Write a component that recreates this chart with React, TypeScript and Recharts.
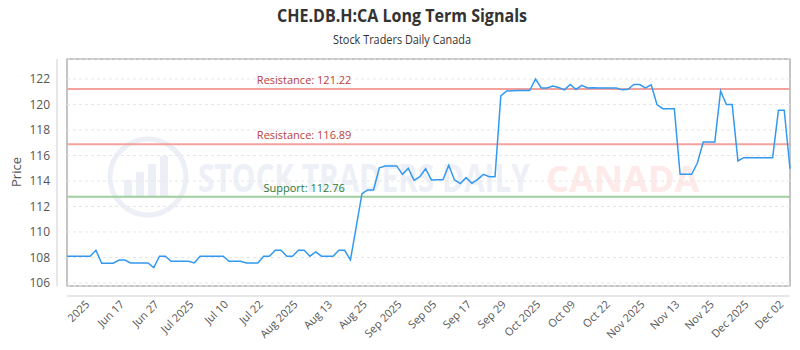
import React from 'react';
import { LineChart, Line, XAxis, YAxis, CartesianGrid, ReferenceLine } from 'recharts';

const W = 800;
const H = 350;
// plot frame, the axis lines sit 10px outside it
const PLOT = { left: 67, top: 59, right: 790, bottom: 286 };

const PRICES = [
  108.1, 108.1, 108.1, 108.1, 108.1, 108.56, 107.55, 107.55, 107.55, 107.8,
  107.8, 107.57, 107.57, 107.57, 107.57, 107.2, 108.1, 108.1, 107.7, 107.7,
  107.7, 107.7, 107.57, 108.1, 108.1, 108.1, 108.1, 108.1, 107.7, 107.7,
  107.7, 107.57, 107.57, 107.57, 108.1, 108.1, 108.56, 108.56, 108.1, 108.1,
  108.56, 108.56, 108.1, 108.43, 108.1, 108.1, 108.1, 108.56, 108.56, 107.8,
  110.4, 113.0, 113.3, 113.3, 115.04, 115.18, 115.18, 115.18, 114.52, 115.0,
  114.05, 114.34, 114.96, 114.08, 114.1, 114.1, 115.23, 114.08, 113.8, 114.26,
  113.82, 114.13, 114.52, 114.34, 114.34, 120.67, 121.06, 121.08, 121.1, 121.1,
  121.1, 122.0, 121.3, 121.3, 121.45, 121.33, 121.15, 121.57, 121.18, 121.5,
  121.3, 121.32, 121.3, 121.3, 121.3, 121.3, 121.15, 121.2, 121.57, 121.57,
  121.3, 121.55, 120.0, 119.67, 119.67, 119.67, 114.52, 114.52, 114.52, 115.43,
  117.06, 117.06, 117.06, 121.06, 120.0, 120.0, 115.57, 115.83, 115.83, 115.83,
  115.83, 115.83, 115.83, 119.55, 119.55, 114.96,
];

const TICK_INDEX = [4, 10, 16, 22, 28, 34, 40, 46, 52, 58, 64, 70, 76, 82, 88, 94, 100, 106, 112, 118, 124];
const TICK_LABELS = [
  '2025', 'Jun 17', 'Jun 27', 'Jul 2025', 'Jul 10', 'Jul 22', 'Aug 2025', 'Aug 13', 'Aug 25',
  'Sep 2025', 'Sep 05', 'Sep 17', 'Sep 29', 'Oct 2025', 'Oct 09', 'Oct 22', 'Nov 2025',
  'Nov 13', 'Nov 25', 'Dec 2025', 'Dec 02',
];
const Y_TICKS = [106, 108, 110, 112, 114, 116, 118, 120, 122];
const Y_DOMAIN = [105.76, 123.57];
const RESISTANCE = [121.22, 116.89];
const SUPPORT = [112.76];

const LINE_COLOR = '#3399f0';
const RES_LINE = '#f3a29d';
const RES_TEXT = '#b8413c';
const SUP_LINE = '#9fcf9c';
const SUP_TEXT = '#2e7d32';
const FONT = '"Open Sans", "DejaVu Sans", sans-serif';

const data = PRICES.map((price, i) => ({ i, price }));

const XTick = (props: any) => {
  const { x, y, payload } = props;
  const k = TICK_INDEX.indexOf(payload.value);
  return (
    <text
      x={x}
      y={y}
      transform={`rotate(-45 ${x} ${y})`}
      textAnchor="end"
      fontSize={11}
      fontFamily={FONT}
      fill="#555"
    >
      {k >= 0 ? TICK_LABELS[k] : ''}
    </text>
  );
};

const RefLabel = (props: any) => {
  const { viewBox, text, color } = props;
  if (!viewBox) return null;
  const x = viewBox.x + viewBox.width * 0.328;
  return (
    <text x={x} y={viewBox.y - 5} textAnchor="middle" fill={color} fontSize={11} fontFamily={FONT}>
      {text}
    </text>
  );
};

// background: titles, watermark, frame and the detached axis lines
const Backdrop = () => (
  <svg width={W} height={H} style={{ position: 'absolute', left: 0, top: 0 }}>
    <text x={402} y={22} textAnchor="middle" fontSize={18} fontWeight={700} fill="#333"
      fontFamily={FONT} textLength={250} lengthAdjust="spacingAndGlyphs">
      CHE.DB.H:CA Long Term Signals
    </text>
    <text x={402} y={44} textAnchor="middle" fontSize={12} fill="#333" fontFamily={FONT}
      textLength={138} lengthAdjust="spacingAndGlyphs">
      Stock Traders Daily Canada
    </text>

    <g opacity={0.7}>
      <circle cx={148} cy={177} r={38} fill="none" stroke="#e4eaf3" strokeWidth={5} />
      <rect x={124} y={180} width={8} height={16} fill="#e4eaf3" />
      <rect x={136} y={172} width={8} height={24} fill="#e4eaf3" />
      <rect x={148} y={164} width={8} height={32} fill="#e4eaf3" />
      <rect x={160} y={156} width={8} height={40} fill="#e4eaf3" />
      <text transform="translate(198 192) scale(0.745 1)" fontSize={40} fontWeight={700}
        fill="#e6ebf3" fontFamily={FONT}>
        STOCK TRADERS DAILY
      </text>
      <text x={546} y={192} fontSize={36} fontWeight={700} fill="#fde2e1" fontFamily={FONT}>
        CANADA
      </text>
    </g>

    <rect x={PLOT.left} y={PLOT.top} width={PLOT.right - PLOT.left} height={PLOT.bottom - PLOT.top}
      fill="none" stroke="#8a8a8a" strokeWidth={1} />
    <line x1={PLOT.left - 10} y1={PLOT.top} x2={PLOT.left - 10} y2={PLOT.bottom} stroke="#cfcfcf" />
    <line x1={PLOT.left} y1={PLOT.bottom + 10} x2={PLOT.right} y2={PLOT.bottom + 10} stroke="#cfcfcf" />
    <text x={16} y={172} transform="rotate(-90 16 172)" textAnchor="middle" dominantBaseline="central"
      fontSize={13} fill="#555" fontFamily={FONT}>
      Price
    </text>
  </svg>
);

export default function App() {
  return (
    <div style={{ position: 'absolute', left: 0, top: 0, width: W, height: H, background: '#fff' }}>
      <Backdrop />
      <div style={{ position: 'absolute', left: 0, top: 0 }}>
        <LineChart
          width={W}
          height={H}
          data={data}
          margin={{ top: PLOT.top, right: W - PLOT.right, bottom: 0, left: 0 }}
        >
          <CartesianGrid vertical={false} stroke="#e6e6e6" strokeDasharray="3 3" />
          <XAxis
            dataKey="i"
            type="number"
            domain={[0, PRICES.length - 1]}
            ticks={TICK_INDEX}
            interval={0}
            tick={<XTick />}
            tickSize={0}
            tickMargin={19}
            axisLine={false}
            tickLine={false}
            height={H - PLOT.bottom}
          />
          <YAxis
            type="number"
            domain={Y_DOMAIN}
            ticks={Y_TICKS}
            interval={0}
            allowDataOverflow
            width={PLOT.left}
            axisLine={false}
            tickLine={false}
            tickSize={0}
            tickMargin={17}
            tick={{ fontSize: 12, fill: '#555', fontFamily: FONT }}
          />
          {RESISTANCE.map((v) => (
            <ReferenceLine
              key={`r-${v}`}
              y={v}
              stroke={RES_LINE}
              strokeWidth={2}
              label={<RefLabel text={`Resistance: ${v}`} color={RES_TEXT} />}
            />
          ))}
          {SUPPORT.map((v) => (
            <ReferenceLine
              key={`s-${v}`}
              y={v}
              stroke={SUP_LINE}
              strokeWidth={2}
              label={<RefLabel text={`Support: ${v}`} color={SUP_TEXT} />}
            />
          ))}
          <Line
            type="linear"
            dataKey="price"
            stroke={LINE_COLOR}
            strokeWidth={1.5}
            dot={false}
            isAnimationActive={false}
          />
        </LineChart>
      </div>
    </div>
  );
}
